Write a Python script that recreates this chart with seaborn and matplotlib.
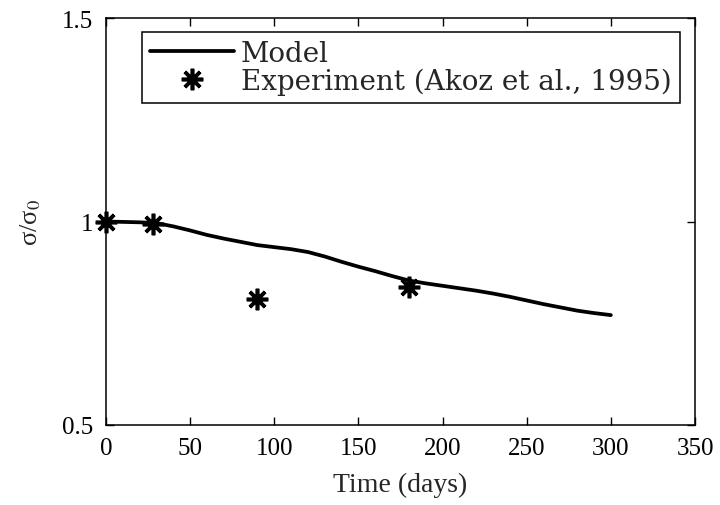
import matplotlib
matplotlib.use("Agg")
import matplotlib.pyplot as plt
import seaborn as sns
import pandas as pd

# ---- data ----
model_days = [0, 10, 20, 30, 40, 50, 60, 70, 80, 90, 100, 110, 120, 130, 140, 150,
              160, 170, 180, 190, 200, 210, 220, 230, 240, 250, 260, 270, 280, 290, 300]
model_vals = [1.000, 0.999, 0.998, 0.996, 0.988, 0.978, 0.967, 0.958, 0.950, 0.942,
              0.937, 0.932, 0.925, 0.914, 0.901, 0.889, 0.878, 0.866, 0.855, 0.848,
              0.842, 0.836, 0.830, 0.823, 0.815, 0.806, 0.797, 0.789, 0.781, 0.775, 0.770]
exp_days = [0, 28, 90, 180]
exp_vals = [1.0, 0.995, 0.81, 0.84]
x_ticks = [0, 50, 100, 150, 200, 250, 300, 350]
y_ticks = [0.5, 1.0, 1.5]
y_tick_labels = ["0.5", "1", "1.5"]

sns.set_style("ticks")
plt.rcParams["font.family"] = ["Liberation Serif", "DejaVu Serif"]
plt.rcParams["mathtext.fontset"] = "stix"

fig = plt.figure(figsize=(7.2, 5.06), dpi=100)
ax = fig.add_axes([106/720, 80/506, 589/720, 407/506])

model_df = pd.DataFrame({"day": model_days, "val": model_vals})
exp_df = pd.DataFrame({"day": exp_days, "val": exp_vals})

sns.lineplot(data=model_df, x="day", y="val", ax=ax, color="black", linewidth=2.7,
             label="Model")
sns.lineplot(data=exp_df, x="day", y="val", ax=ax, color="black", linestyle="",
             marker=(8, 2, 0), markersize=15.5, markeredgewidth=2.6,
             markeredgecolor="black", markerfacecolor="black", clip_on=False,
             label="Experiment (Akoz et al., 1995)")

ax.set_xlim(0, 350)
ax.set_ylim(0.5, 1.5)
ax.set_xticks(x_ticks)
ax.set_xticklabels([str(t) for t in x_ticks])
ax.set_yticks(y_ticks)
ax.set_yticklabels(y_tick_labels)
ax.tick_params(direction="in", top=True, right=True, length=6, width=1,
               labelsize=18, pad=9, colors="black")
for s in ax.spines.values():
    s.set_visible(True)
    s.set_linewidth(1.1)
    s.set_color("black")

ax.set_xlabel("Time (days)", fontsize=20, labelpad=9)
ax.set_ylabel(r"σ/σ$_0$", fontsize=19, labelpad=14)

leg = ax.legend(loc="upper left", bbox_to_anchor=(0.061, 0.966), borderaxespad=0,
                prop={"family": ["DejaVu Serif"], "size": 20},
                frameon=True, fancybox=False, edgecolor="black",
                framealpha=1, handlelength=3.0, handletextpad=0.25,
                labelspacing=0.0, borderpad=0.3)
leg.get_frame().set_linewidth(1.1)

fig.savefig("out.png", dpi=100)
